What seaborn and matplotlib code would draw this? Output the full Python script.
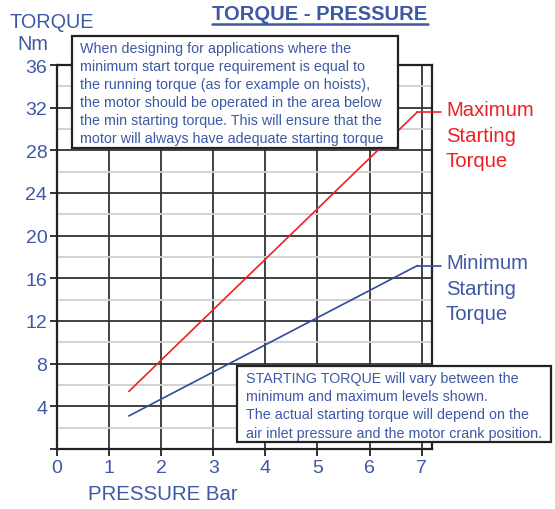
import pandas as pd
import seaborn as sns
import matplotlib.pyplot as plt
from matplotlib.patches import Rectangle
from matplotlib.lines import Line2D

sns.set_theme(style="white")
plt.rcParams['font.family'] = ['Liberation Sans', 'DejaVu Sans']

# data
pressure = [1.38, 6.92]
torque_max = [5.4, 31.6]
torque_min = [3.1, 17.2]
leader_end = 7.37
x_ticks = [0, 1, 2, 3, 4, 5, 6, 7]
y_ticks = [0, 4, 8, 12, 16, 20, 24, 28, 32, 36]
y_labels = ["", "4", "8", "12", "16", "20", "24", "28", "32", "36"]

BLUE_TXT = "#3d58a6"
BLUE = "#2f4a9e"
RED = "#ee2026"

df = pd.DataFrame({
    "Pressure": pressure * 2,
    "Torque": torque_max + torque_min,
    "Series": ["Maximum"] * 2 + ["Minimum"] * 2,
})

fig = plt.figure(figsize=(5.55, 5.1), dpi=100)
ax = fig.add_axes([57 / 555, 1 - 450 / 510, 375 / 555, 384 / 510])

sns.lineplot(data=df, x="Pressure", y="Torque", hue="Series",
             palette={"Maximum": RED, "Minimum": BLUE}, legend=False,
             lw=1.2, ax=ax, zorder=3)
# leader lines out to the labels
ax.plot([pressure[-1], leader_end], [torque_max[-1]] * 2, color=RED, lw=1.2, clip_on=False, zorder=3)
ax.plot([pressure[-1], leader_end], [torque_min[-1]] * 2, color=BLUE, lw=1.2, clip_on=False, zorder=3)

ax.set_xlim(0, 7.2)
ax.set_ylim(0, 36)
ax.set_xticks(x_ticks)
ax.set_yticks(y_ticks)
ax.set_yticklabels(y_labels)
ax.set_yticks([2, 6, 10, 14, 18, 22, 26, 30, 34], minor=True)
ax.grid(which="major", color="#333333", lw=1.3)
ax.grid(which="minor", axis="y", color="#cfcfcf", lw=1.3)
ax.set_axisbelow(True)
for s in ax.spines.values():
    s.set_color("#222222")
    s.set_linewidth(1.6)
ax.tick_params(which="major", direction="out", length=5, width=1.3, color="#222222",
               labelsize=14, labelcolor=BLUE_TXT, pad=2, left=True, bottom=True)
ax.tick_params(which="minor", length=0)
ax.set_xlabel("")
ax.set_ylabel("")

# axis titles
fig.text(10 / 555, 1 - 22 / 510, "TORQUE", fontsize=14.3, color=BLUE_TXT, ha="left", va="center")
fig.text(33 / 555, 1 - 45 / 510, "Nm", fontsize=14.3, color=BLUE_TXT, ha="center", va="center")
fig.text(163 / 555, 1 - 495 / 510, "PRESSURE Bar", fontsize=14.7, color=BLUE_TXT, ha="center", va="center")

# underlined title
title = fig.text(320 / 555, 1 - 15 / 510, "TORQUE - PRESSURE", fontsize=14.5, fontweight="bold",
                 color=BLUE_TXT, ha="center", va="center")
fig.canvas.draw()
bb = title.get_window_extent().transformed(fig.transFigure.inverted())
fig.add_artist(Line2D([bb.x0, bb.x1], [1 - 25 / 510] * 2, color=BLUE_TXT, lw=1.8))

# series labels
fig.text(446 / 555, 1 - 101 / 510, "Maximum\nStarting\nTorque", fontsize=14.6, color=RED,
         ha="left", va="top", linespacing=1.45)
fig.text(446 / 555, 1 - 254 / 510, "Minimum\nStarting\nTorque", fontsize=14.6, color=BLUE_TXT,
         ha="left", va="top", linespacing=1.45)

# note boxes
note_top = ("When designing for applications where the\n"
            "minimum start torque requirement is equal to\n"
            "the running torque (as for example on hoists),\n"
            "the motor should be operated in the area below\n"
            "the min starting torque. This will ensure that the\n"
            "motor will always have adequate starting torque")
note_bottom = ("STARTING TORQUE will vary between the\n"
               "minimum and maximum levels shown.\n"
               "The actual starting torque will depend on the\n"
               "air inlet pressure and the motor crank position.")

fig.add_artist(Rectangle((72 / 555, 1 - 149 / 510), 326 / 555, 112 / 510, facecolor="white",
                         edgecolor="#222222", lw=1.6, zorder=5))
fig.text(80 / 555, 1 - 42 / 510, note_top, fontsize=10.3, color=BLUE_TXT, ha="left", va="top",
         linespacing=1.36, zorder=6)
fig.add_artist(Rectangle((237 / 555, 1 - 443 / 510), 314 / 555, 76 / 510, facecolor="white",
                         edgecolor="#222222", lw=1.6, zorder=5))
fig.text(246 / 555, 1 - 372 / 510, note_bottom, fontsize=10.3, color=BLUE_TXT, ha="left", va="top",
         linespacing=1.38, zorder=6)

fig.savefig("out.png", dpi=100)
